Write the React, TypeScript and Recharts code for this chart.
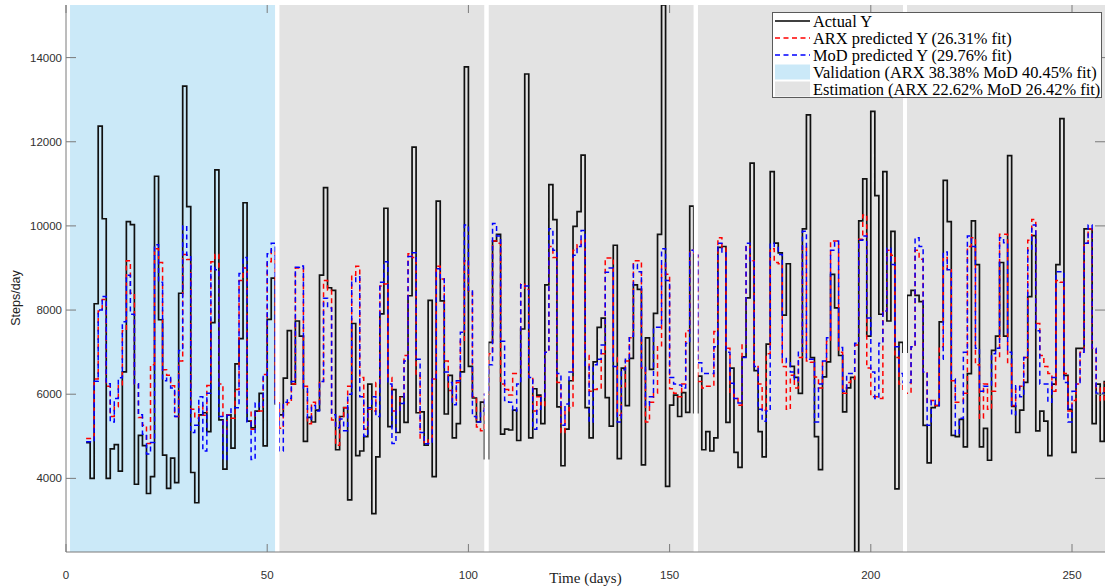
import React from 'react';
import { LineChart, Line, XAxis, YAxis, ReferenceArea } from 'recharts';

// ---------- data ----------
const firstDay = 5;

const actualY = [
  4850, 4000, 8150, 12370, 10170, 4000, 4700, 4800, 4170, 6530,
  10100, 10030, 3860, 5020, 4780, 3640, 4040, 11180, 7770, 4550,
  3760, 4480, 3900, 8400, 13320, 10460, 4140, 3420, 5510, 5560,
  5110, 7700, 11330, 5390, 4220, 5510, 4720, 6720, 7320, 10550,
  5360, 5200, 5600, 6020, 4770, 7780, 8760, 5770, 5510, 6380,
  7510, 6240, 7740, 7380, 4880, 5450, 5340, 5620, 8830, 10910,
  8530, 8470, 4680, 5470, 5680, 3490, 7680, 4540, 4650, 4990,
  6240, 3160, 4510, 7910, 10420, 5230, 6110, 5090, 5940, 5330,
  8340, 11870, 5560, 5580, 4790, 8230, 4040, 10590, 8220, 5530,
  6450, 4960, 5300, 6530, 13780, 6660, 5910, 5340, 5810, 4470,
  7230, 9640, 9800, 5050, 5170, 5150, 5620, 4900, 7550, 13610,
  4960, 6130, 5980, 5300, 8600, 10980, 10150, 5700, 4300, 5170,
  6320, 9990, 10340, 11680, 5680, 4960, 6770, 7590, 7810, 5920,
  5240, 9540, 4470, 6620, 5730, 6850, 8600, 8490, 4320, 7340,
  6590, 7920, 9800, 15250, 3810, 5740, 5980, 5470, 6040, 5570,
  10470, 5560, 6430, 4680, 5110, 4650, 4960, 9490, 9510, 5330,
  6620, 4620, 4260, 6890, 8290, 11490, 6560, 5110, 4510, 7190,
  11290, 9590, 9360, 7880, 9100, 6660, 6400, 6020, 9930, 12640,
  6870, 4990, 4210, 6410, 6770, 8850, 8050, 6920, 5580, 6150,
  6400, 2250, 10120, 11120, 7380, 12720, 10720, 7900, 11290, 7740,
  9870, 3750, 7230, 7000, 8350, 8470, 8350, 8200, 5260, 4370,
  5680, 5730, 7720, 11080, 10100, 5020, 4990, 5400, 4750, 6490,
  10120, 9080, 4750, 5190, 4430, 7040, 7380, 9130, 7380, 11670,
  5710, 5090, 5620, 6280, 8320, 9770, 5130, 5600, 5360, 4540,
  6240, 9080, 12550, 6450, 5640, 4620, 7090, 7090, 9930, 9930,
  5300, 6240, 4880, 6320,
];

const arxY = [
  4950, 4950, 6360, 7980, 8250, 6190, 5470, 5700, 6200, 7510,
  9170, 8400, 6250, 5445, 5260, 4830, 6700, 9460, 9130, 6580,
  6450, 6200, 5470, 6790, 9320, 9200, 5640, 5430, 5730, 5500,
  6210, 9150, 9320, 6240, 5070, 5510, 5430, 6110, 8700, 9000,
  5600, 5170, 5600, 5600, 6470, 9150, 9420, 5800, 5190, 5730,
  5800, 6240, 9000, 9000, 6190, 5300, 5810, 5770, 6280, 8700,
  8470, 5390, 4790, 5470, 5680, 6190, 8830, 9040, 6400, 5170,
  5640, 5600, 6280, 8570, 8620, 6400, 5600, 5600, 5940, 6920,
  9340, 9250, 6450, 4940, 4830, 4920, 6360, 9040, 8740, 6790,
  6090, 5850, 6280, 7260, 9170, 8450, 5940, 5220, 5130, 6000,
  6960, 9640, 9590, 6240, 6110, 5980, 6490, 6490, 8620, 8490,
  6400, 5600, 5940, 5730, 7000, 9510, 9250, 6280, 5090, 5600,
  5680, 9420, 9550, 9660, 6920, 6070, 6110, 6150, 6960, 9240,
  9240, 6870, 5500, 6180, 6790, 7340, 9170, 9170, 6620, 5340,
  5810, 6020, 7130, 9080, 8850, 6130, 6020, 5940, 6240, 7510,
  9420, 9300, 6300, 6150, 6190, 6190, 7490, 9720, 9490, 7090,
  6020, 5900, 5740, 7190, 9510, 9170, 6660, 6240, 5620, 6960,
  9460, 9130, 9100, 6660, 5640, 6450, 6150, 6870, 9510, 6790,
  6760, 6410, 6150, 6790, 7260, 9640, 9640, 7000, 6020, 6280,
  6360, 7170, 9680, 10260, 6620, 5940, 5940, 5900, 7980, 9420,
  9300, 6870, 6240, 6020, 6020, 7130, 9420, 9210, 6530, 5810,
  5850, 5730, 7130, 9250, 8960, 6320, 5810, 5810, 6020, 9510,
  9720, 6700, 5430, 6240, 5640, 6070, 6870, 9800, 9800, 6720,
  5730, 6150, 6190, 6870, 9660, 10150, 7680, 6920, 6660, 6490,
  6070, 8700, 8660, 6490, 5600, 5850, 6240, 7000, 9590, 9930,
  7090, 6150, 5850, 6280,
];

const modY = [
  4870, 4870, 6310, 8000, 8320, 6250, 5340, 5900, 6390, 7720,
  8830, 7900, 6250, 5510, 5050, 4580, 4850, 9550, 8660, 6320,
  6400, 6150, 5470, 7040, 10000, 9300, 5090, 5260, 5940, 4650,
  6020, 9040, 8960, 5470, 4450, 5500, 5680, 5680, 8870, 9250,
  5340, 4450, 5790, 5700, 6450, 9340, 9590, 5800, 4650, 5810,
  5900, 6300, 9020, 9050, 6150, 5410, 5730, 5600, 6300, 8280,
  8050, 5510, 5200, 5410, 5130, 6000, 8680, 8790, 5940, 5000,
  5680, 5940, 5470, 8660, 9150, 6240, 4830, 5600, 5780, 6790,
  9270, 9360, 6830, 5090, 4820, 4830, 6360, 8980, 8760, 6530,
  6280, 5750, 6320, 7470, 10020, 8450, 5470, 5340, 5600, 6000,
  6700, 10060, 9760, 7260, 5850, 5810, 5600, 6240, 8600, 8570,
  6400, 5170, 5640, 5940, 7000, 9930, 9420, 6490, 5260, 5770,
  6530, 9300, 9510, 9890, 6660, 5340, 6700, 6830, 7170, 8900,
  9000, 6660, 5340, 6580, 6830, 7380, 9080, 8910, 6660, 5730,
  5940, 7590, 7590, 9460, 8700, 6400, 6240, 6220, 6150, 7210,
  9420, 9300, 6750, 6490, 6490, 6490, 7130, 9590, 9360, 7000,
  6260, 5900, 5790, 6870, 9590, 9170, 6660, 5640, 5360, 5600,
  9590, 9510, 9320, 6870, 6750, 6530, 6320, 7000, 9870, 6830,
  6830, 5340, 6240, 6790, 7340, 9420, 9640, 7110, 6070, 6490,
  6490, 7210, 9660, 9760, 7810, 6530, 5900, 7210, 7980, 9470,
  9080, 7130, 6490, 6280, 6280, 7130, 9720, 9510, 6530, 5260,
  5850, 5730, 6830, 9380, 8960, 6360, 5050, 5430, 7000, 9760,
  9510, 7090, 6070, 6190, 6190, 6960, 7090, 9720, 9600, 7000,
  5510, 6200, 5940, 6870, 9420, 10020, 7510, 6240, 6240, 5810,
  6400, 8910, 8910, 6280, 5340, 6070, 6240, 7000, 9590, 10020,
  7090, 6020, 6020, 6020,
];

const xTicks = [0, 50, 100, 150, 200, 250];
const yTicks = [4000, 6000, 8000, 10000, 12000, 14000];
const xDomain = [0, 258.2];
const yDomain = [2250, 15250];

const validationRange = [1, 52];
const estimationRanges = [
  [53, 104],
  [105, 156],
  [157, 208],
  [209, 258.2],
];
const gapRanges = [
  [52, 53],
  [104, 105],
  [156, 157],
  [208, 209],
];

const legendLabels = [
  'Actual Y',
  'ARX predicted Y (26.31% fit)',
  'MoD predicted Y (29.76% fit)',
  'Validation (ARX 38.38% MoD 40.45% fit)',
  'Estimation (ARX 22.62% MoD 26.42% fit)',
];

const data = actualY.map((v, i) => ({
  day: firstDay + i,
  actual: v,
  arx: arxY[i],
  mod: modY[i],
}));

// ---------- styling ----------
const W = 1105;
const H = 588;
const PLOT_TOP = 5;
const PLOT_RIGHT = 1105;
const AXIS = '#7a7a7a';
const LABEL = '#303030';
const BLUE_BG = '#cbe9f8';
const GRAY_BG = '#e3e3e3';
const SANS = '"Liberation Sans", Arial, Helvetica, sans-serif';
const SERIF = '"Liberation Serif", "Times New Roman", serif';

const XTick = (props: any) => {
  const { x, y, payload } = props;
  return (
    <g>
      <line x1={x} y1={y} x2={x} y2={y - 8} stroke={AXIS} strokeWidth={1} />
      <line x1={x} y1={PLOT_TOP} x2={x} y2={PLOT_TOP + 8} stroke={AXIS} strokeWidth={1} />
      <text x={x} y={y + 27} textAnchor="middle" fontFamily={SANS} fontSize={11.5} fill={LABEL}>
        {payload.value}
      </text>
    </g>
  );
};

const YTick = (props: any) => {
  const { x, y, payload } = props;
  return (
    <g>
      <line x1={x} y1={y} x2={x + 10} y2={y} stroke={AXIS} strokeWidth={1} />
      <line x1={PLOT_RIGHT} y1={y} x2={PLOT_RIGHT - 10} y2={y} stroke={AXIS} strokeWidth={1} />
      <text x={x - 4} y={y + 4} textAnchor="end" fontFamily={SANS} fontSize={11.5} fill={LABEL}>
        {payload.value}
      </text>
    </g>
  );
};

const Legend = () => {
  const left = 772;
  const top = 12;
  const w = 329;
  const h = 85;
  const rows = [21, 38, 55, 72, 89];
  const sx1 = 775;
  const sx2 = 810;
  const tx = 813;
  return (
    <svg
      width={W}
      height={H}
      style={{ position: 'absolute', left: 0, top: 0, pointerEvents: 'none' }}
    >
      <rect x={left + 0.5} y={top + 0.5} width={w} height={h} fill="#ffffff" stroke="#5a5a5a" strokeWidth={1} />
      <line x1={sx1} y1={rows[0]} x2={sx2} y2={rows[0]} stroke="#000" strokeWidth={1.5} />
      <line x1={sx1} y1={rows[1]} x2={sx2} y2={rows[1]} stroke="#ff0000" strokeWidth={1.5} strokeDasharray="5 3.5" />
      <line x1={sx1} y1={rows[2]} x2={sx2} y2={rows[2]} stroke="#0000ff" strokeWidth={1.5} strokeDasharray="5 3.5" />
      <rect x={sx1} y={rows[3] - 7.5} width={sx2 - sx1} height={15} fill={BLUE_BG} />
      <rect x={sx1} y={rows[4] - 7.5} width={sx2 - sx1} height={15} fill={GRAY_BG} />
      {legendLabels.map((t, i) => (
        <text key={t} x={tx} y={rows[i] + 5.5} fontFamily={SERIF} fontSize={16.4} fill="#000">
          {t}
        </text>
      ))}
    </svg>
  );
};

export default function App() {
  return (
    <div style={{ position: 'absolute', left: 0, top: 0, width: W, height: H, background: '#fff' }}>
      <LineChart width={W} height={H} data={data} margin={{ top: PLOT_TOP, right: 0, bottom: 0, left: 0 }}>
        <ReferenceArea
          x1={validationRange[0]}
          x2={validationRange[1]}
          y1={yDomain[0]}
          y2={yDomain[1]}
          fill={BLUE_BG}
          fillOpacity={1}
          stroke="none"
          ifOverflow="hidden"
        />
        {estimationRanges.map(([a, b]) => (
          <ReferenceArea
            key={`e${a}`}
            x1={a}
            x2={b}
            y1={yDomain[0]}
            y2={yDomain[1]}
            fill={GRAY_BG}
            fillOpacity={1}
            stroke="none"
            ifOverflow="hidden"
          />
        ))}
        <XAxis
          dataKey="day"
          type="number"
          domain={xDomain}
          ticks={xTicks}
          interval={0}
          allowDataOverflow
          height={36}
          tickSize={0}
          tickMargin={0}
          tickLine={false}
          axisLine={{ stroke: AXIS, strokeWidth: 1 }}
          tick={<XTick />}
          label={{
            content: () => (
              <text x={585.5} y={583} textAnchor="middle" fontFamily={SERIF} fontSize={15} fill="#222">
                Time (days)
              </text>
            ),
          }}
        />
        <YAxis
          type="number"
          domain={yDomain}
          ticks={yTicks}
          interval={0}
          allowDataOverflow
          width={66}
          tickSize={0}
          tickMargin={0}
          tickLine={false}
          axisLine={{ stroke: AXIS, strokeWidth: 1 }}
          tick={<YTick />}
          label={{
            content: () => (
              <text
                x={20}
                y={298}
                textAnchor="middle"
                fontFamily={SANS}
                fontSize={12.5}
                fill="#222"
                transform="rotate(-90, 20, 298)"
              >
                Steps/day
              </text>
            ),
          }}
        />
        <Line
          type="stepAfter"
          dataKey="actual"
          stroke="#111111"
          strokeWidth={1.7}
          dot={false}
          activeDot={false}
          isAnimationActive={false}
        />
        <Line
          type="stepAfter"
          dataKey="arx"
          stroke="#ff0000"
          strokeWidth={1.5}
          strokeDasharray="5 3.5"
          dot={false}
          activeDot={false}
          isAnimationActive={false}
        />
        <Line
          type="stepAfter"
          dataKey="mod"
          stroke="#0000ff"
          strokeWidth={1.5}
          strokeDasharray="5 3.5"
          dot={false}
          activeDot={false}
          isAnimationActive={false}
        />
        {gapRanges.map(([a, b]) => (
          <ReferenceArea
            key={`g${a}`}
            x1={a}
            x2={b}
            y1={yDomain[0]}
            y2={yDomain[1]}
            fill="#ffffff"
            fillOpacity={1}
            stroke="none"
            ifOverflow="hidden"
            zIndex={450}
          />
        ))}
      </LineChart>
      <Legend />
    </div>
  );
}
